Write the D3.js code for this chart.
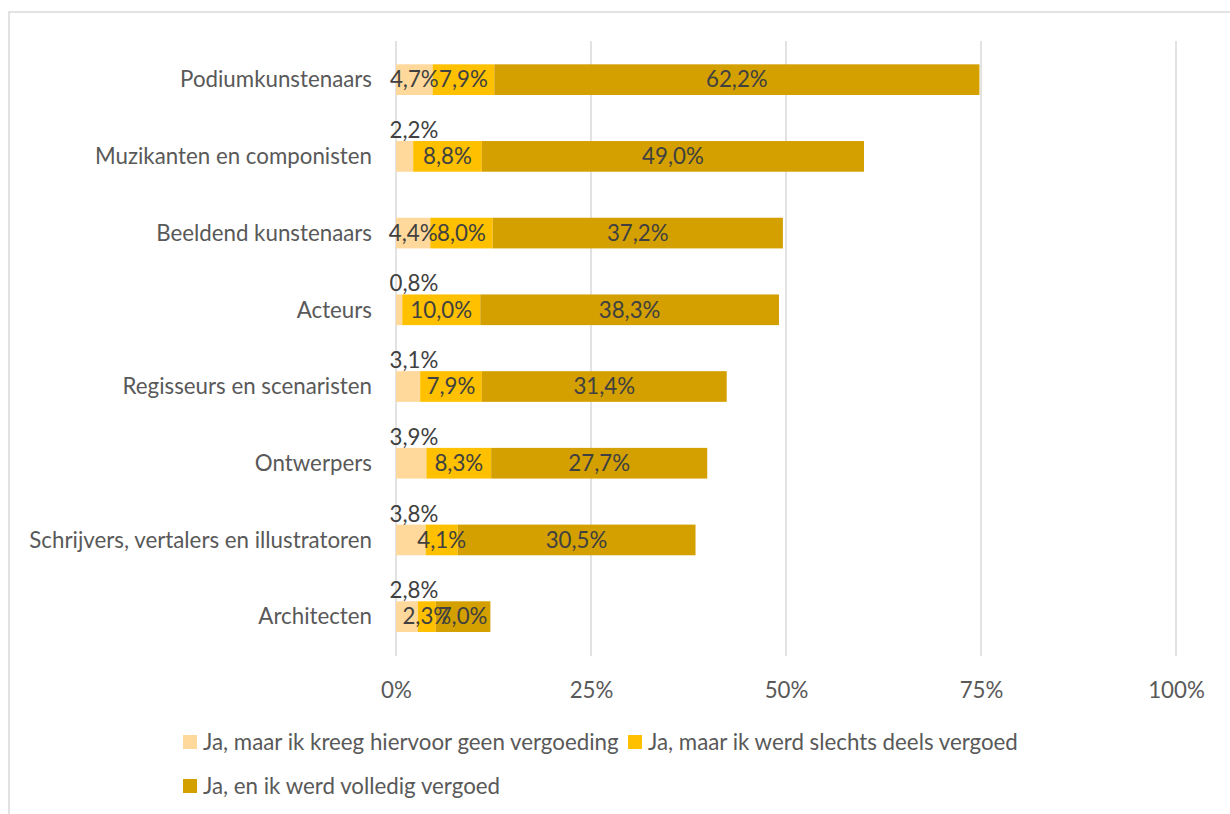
<!DOCTYPE html>
<html><head><meta charset="utf-8">
<script src="https://cdn.jsdelivr.net/npm/d3@7"></script>
<style>body{margin:0;background:#fff}svg{display:block}text{font-family:Lato,"Open Sans",sans-serif}</style>
</head><body>
<svg id="c" width="1230" height="814"></svg>
<script>
const categories = ["Podiumkunstenaars","Muzikanten en componisten","Beeldend kunstenaars","Acteurs","Regisseurs en scenaristen","Ontwerpers","Schrijvers, vertalers en illustratoren","Architecten"];
const geenVergoeding = [4.7,2.2,4.4,0.8,3.1,3.9,3.8,2.8];
const deelsVergoed = [7.9,8.8,8.0,10.0,7.9,8.3,4.1,2.3];
const volledigVergoed = [62.2,49.0,37.2,38.3,31.4,27.7,30.5,7.0];
const seriesNames = ["Ja, maar ik kreeg hiervoor geen vergoeding","Ja, maar ik werd slechts deels vergoed","Ja, en ik werd volledig vergoed"];
const tickValues = [0,25,50,75,100];
const colors = ["#FFD89B","#FFC000","#D4A000"];
const FS = 22.3;

const svg = d3.select("#c");
svg.append("rect").attr("x",9).attr("y",12).attr("width",1240).attr("height",820)
  .attr("fill","none").attr("stroke","#d9d9d9").attr("stroke-width",1.5);

const x = d3.scaleLinear().domain([0,100]).range([396,1176]);
const y = d3.scaleBand().domain(categories).range([41.3,655]).paddingInner(0.6).paddingOuter(0.3);

svg.append("g").selectAll("line").data(tickValues).join("line")
  .attr("x1",d=>x(d)).attr("x2",d=>x(d)).attr("y1",41).attr("y2",656)
  .attr("stroke","#d9d9d9").attr("stroke-width",1.5);

const seriesArr = [geenVergoeding,deelsVergoed,volledigVergoed];
const rows = categories.map((c,i)=>{const o={cat:c};seriesArr.forEach((s,k)=>o["s"+k]=s[i]);return o;});
const stack = d3.stack().keys(["s0","s1","s2"])(rows);

const bw = y.bandwidth();
stack.forEach((layer,k)=>{
  svg.append("g").selectAll("rect").data(layer).join("rect")
    .attr("x",d=>x(d[0])).attr("width",d=>x(d[1])-x(d[0]))
    .attr("y",d=>y(d.data.cat)).attr("height",bw).attr("fill",colors[k]);
});
const fmt = v => v.toFixed(1).replace(".",",")+"%";
const isAbove = (k,d) => k===0 && (d[1]-d[0])<4;
stack.forEach((layer,k)=>{
  svg.append("g").selectAll("text").data(layer).join("text")
    .attr("x",d=> isAbove(k,d) ? x(0)+18 : (x(d[0])+x(d[1]))/2)
    .attr("y",d=> isAbove(k,d) ? y(d.data.cat)-3 : y(d.data.cat)+bw/2)
    .attr("dy",d=> isAbove(k,d) ? "0em" : "0.35em").attr("text-anchor","middle")
    .attr("font-size",FS).attr("fill","#404040")
    .text(d=>fmt(d[1]-d[0]));
});

svg.append("g").selectAll("text").data(categories).join("text")
  .attr("x",372).attr("y",d=>y(d)+bw/2).attr("dy","0.35em").attr("text-anchor","end")
  .attr("font-size",FS).attr("fill","#595959").text(d=>d);

const xAxis = d3.axisBottom(x).tickValues(tickValues).tickFormat(d=>d+"%").tickSize(0).tickPadding(0);
const ga = svg.append("g").attr("transform","translate(0,690)").call(xAxis);
ga.select(".domain").remove();
ga.selectAll("text").attr("font-size",FS).attr("fill","#595959").attr("dy","0.35em").attr("y",0)
  .style("font-family",'Lato,"Open Sans",sans-serif');

const legPos = [[183,742],[628,742],[183,786]];
seriesNames.forEach((n,k)=>{
  const g = svg.append("g").attr("transform",`translate(${legPos[k][0]},${legPos[k][1]})`);
  g.append("rect").attr("x",0).attr("y",-7).attr("width",14).attr("height",14).attr("fill",colors[k]);
  g.append("text").attr("x",20).attr("y",0).attr("dy","0.35em").attr("font-size",FS).attr("fill","#595959").text(n);
});
</script>
</body></html>
